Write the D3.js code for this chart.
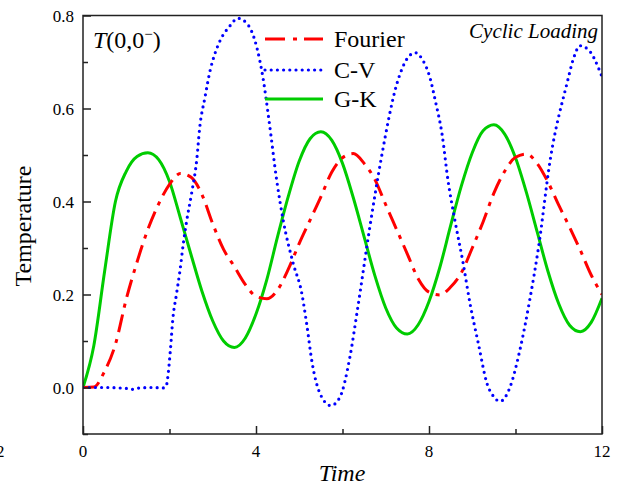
<!DOCTYPE html>
<html><head><meta charset="utf-8">
<script src="https://cdn.jsdelivr.net/npm/d3@7"></script>
<style>body{margin:0;background:#fff}svg{display:block}text{font-family:"Liberation Serif","Times New Roman",serif;fill:#000}</style>
</head><body><svg id="c" width="619" height="486"></svg>
<script>
const xTicks=[0,4,8,12];
const xMinor=[2,6,10];
const yTicks=[0,0.2,0.4,0.6,0.8];
const yMinor=[-0.1,0.1,0.3,0.5,0.7];
const seriesNames=["Fourier","C-V","G-K"];

const tGrid=[0,0.25,0.5,0.75,1,1.25,1.5,1.75,2,2.25,2.5,2.75,3,3.25,3.5,3.75,4,4.25,4.5,4.75,5,5.25,5.5,5.75,6,6.25,6.5,6.75,7,7.25,7.5,7.75,8,8.25,8.5,8.75,9,9.25,9.5,9.75,10,10.25,10.5,10.75,11,11.25,11.5,11.75,12];
const fourier=[0,0.001,0.035,0.093,0.19,0.27,0.34,0.395,0.437,0.46,0.452,0.415,0.352,0.297,0.26,0.222,0.196,0.191,0.21,0.255,0.31,0.36,0.41,0.463,0.494,0.503,0.482,0.447,0.393,0.34,0.287,0.234,0.205,0.199,0.216,0.247,0.3,0.356,0.418,0.465,0.495,0.502,0.482,0.442,0.392,0.345,0.295,0.242,0.2];
const gk=[0,0.09,0.25,0.4,0.465,0.497,0.505,0.49,0.443,0.365,0.285,0.207,0.143,0.1,0.086,0.106,0.158,0.232,0.325,0.412,0.487,0.535,0.55,0.532,0.482,0.408,0.324,0.24,0.171,0.128,0.115,0.135,0.185,0.258,0.348,0.434,0.505,0.552,0.565,0.545,0.494,0.42,0.335,0.25,0.18,0.134,0.12,0.14,0.192];
const cvT=[0,0.5,1,1.15,1.3,1.6,1.85,1.92,1.97,2.02,2.08,2.16,2.24,2.32,2.4,2.51,2.63,2.7,2.82,2.94,3.05,3.17,3.4,3.58,3.79,4.02,4.16,4.3,4.48,4.63,4.86,5.06,5.17,5.3,5.48,5.73,5.94,6.17,6.35,6.63,6.9,7.26,7.5,7.68,7.85,8.02,8.15,8.3,8.44,8.6,8.79,8.95,9.14,9.34,9.5,9.64,9.87,10.1,10.34,10.53,10.8,11.19,11.35,11.49,11.7,11.95,12];
const cv=[0,0,-0.002,-0.004,-0.001,0,-0.001,0.002,0.03,0.08,0.15,0.2,0.25,0.31,0.36,0.417,0.49,0.56,0.624,0.682,0.718,0.746,0.778,0.794,0.783,0.731,0.667,0.575,0.445,0.359,0.267,0.202,0.138,0.052,-0.013,-0.039,-0.021,0.065,0.17,0.344,0.495,0.654,0.708,0.72,0.705,0.667,0.615,0.546,0.445,0.359,0.267,0.18,0.095,0.009,-0.02,-0.03,0,0.08,0.194,0.3,0.488,0.654,0.71,0.735,0.725,0.68,0.668];

const svg=d3.select("#c");
const L=83,R=602,T=15.5,B=434;
const x=d3.scaleLinear().domain([0,12]).range([L,R]);
const y=d3.scaleLinear().domain([-0.1,0.8]).range([B,T]);

svg.append("defs").append("clipPath").attr("id","clip").append("rect")
  .attr("x",L).attr("y",T).attr("width",R-L).attr("height",B-T);

const line=d3.line().x(d=>x(d[0])).y(d=>y(d[1])).curve(d3.curveMonotoneX);
const dF=tGrid.map((t,i)=>[t,fourier[i]]);
const dG=tGrid.map((t,i)=>[t,gk[i]]);
const dC=cvT.map((t,i)=>[t,cv[i]]);

const styles={
 "Fourier":{c:"#ff0000",w:3,dash:"18,7,4,7",cap:"butt"},
 "C-V":{c:"#0000ff",w:3.2,dash:"0,6.2",cap:"round"},
 "G-K":{c:"#00cc00",w:3,dash:null,cap:"butt"}
};
const g=svg.append("g").attr("clip-path","url(#clip)");
[["G-K",dG],["Fourier",dF],["C-V",dC]].forEach(([n,d])=>{
  const s=styles[n];
  g.append("path").attr("d",line(d)).attr("fill","none").attr("stroke",s.c)
   .attr("stroke-width",s.w).attr("stroke-dasharray",s.dash).attr("stroke-linecap",s.cap);
});

svg.append("rect").attr("x",L).attr("y",T).attr("width",R-L).attr("height",B-T)
  .attr("fill","none").attr("stroke","#222").attr("stroke-width",1.5);

const axes=[
  svg.append("g").attr("transform",`translate(0,${B})`).call(d3.axisBottom(x).tickValues(xTicks).tickSizeInner(-8).tickSizeOuter(0).tickFormat("")),
  svg.append("g").attr("transform",`translate(0,${B})`).call(d3.axisBottom(x).tickValues(xMinor).tickSizeInner(-5).tickSizeOuter(0).tickFormat("")),
  svg.append("g").attr("transform",`translate(${L},0)`).call(d3.axisLeft(y).tickValues(yTicks).tickSizeInner(-8).tickSizeOuter(0).tickFormat("")),
  svg.append("g").attr("transform",`translate(${L},0)`).call(d3.axisLeft(y).tickValues(yMinor).tickSizeInner(-5).tickSizeOuter(0).tickFormat(""))
];
axes.forEach(a=>{
  a.select(".domain").remove();
  a.selectAll("line").attr("stroke","#222").attr("stroke-width",1.5);
  a.selectAll("text").remove();
});
const fmtY=d3.format(".1f");
const lab=svg.append("g");
lab.selectAll("text.ty").data(yTicks).join("text").attr("class","ty")
  .attr("x",L-9).attr("y",d=>y(d)+6).attr("text-anchor","end")
  .attr("font-size",17).attr("fill","#111").text(d=>fmtY(d));
lab.selectAll("text.tx").data(xTicks).join("text").attr("class","tx")
  .attr("x",d=>x(d)).attr("y",B+23).attr("text-anchor","middle")
  .attr("font-size",17).attr("fill","#111").text(d=>String(d));
lab.append("text").attr("x",-4).attr("y",B+23).attr("font-size",17).attr("fill","#111").text("2");

svg.append("text").attr("x",342).attr("y",481).attr("text-anchor","middle")
  .attr("font-size",24).attr("font-style","italic").text("Time");
svg.append("text").attr("transform","translate(31,226) rotate(-90)").attr("text-anchor","middle")
  .attr("font-size",24).text("Temperature");

const ann=svg.append("text").attr("x",93).attr("y",48).attr("font-size",24);
ann.append("tspan").attr("font-style","italic").text("T");
ann.append("tspan").text("(0,0");
ann.append("tspan").attr("font-size",15).attr("dy",-9).text("\u2212");
ann.append("tspan").attr("dy",9).text(")");
svg.append("text").attr("x",598).attr("y",38).attr("text-anchor","end")
  .attr("font-size",21).attr("font-style","italic").text("Cyclic Loading");

const lg=svg.append("g");
const ly=[39,70,99];
seriesNames.forEach((n,i)=>{
  const s=styles[n];
  lg.append("line").attr("x1",265).attr("x2",323).attr("y1",ly[i]).attr("y2",ly[i])
    .attr("stroke",s.c).attr("stroke-width",s.w).attr("stroke-dasharray",n==="Fourier"?"20,8,4,7":s.dash).attr("stroke-linecap",s.cap);
  lg.append("text").attr("x",334).attr("y",ly[i]+8).attr("font-size",24).text(n);
});
</script></body></html>
